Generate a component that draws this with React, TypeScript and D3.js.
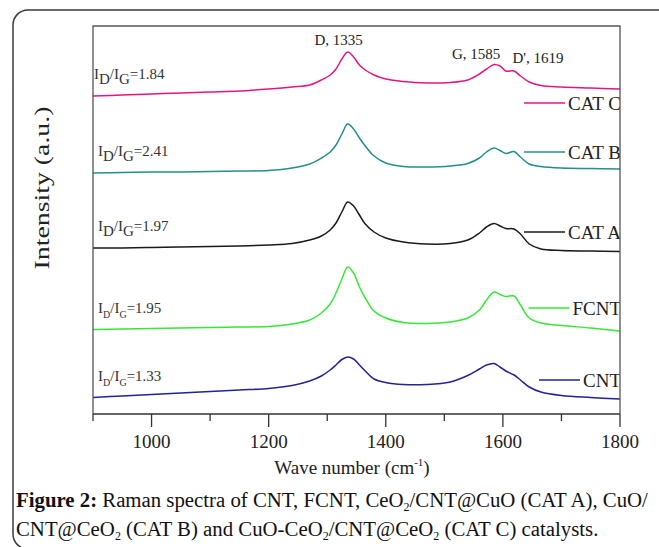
import React, { useRef, useEffect } from "react";
import * as d3 from "d3";

// Raman shift grid (cm-1) shared by all spectra
const waveNumbers = [
  900, 950, 1000, 1050, 1100, 1150, 1200, 1240, 1270, 1290, 1305, 1315, 1325,
  1335, 1345, 1355, 1365, 1380, 1400, 1430, 1470, 1510, 1540, 1560, 1572,
  1585, 1595, 1605, 1619, 1630, 1645, 1665, 1700, 1750, 1800,
];

// stacked intensities (a.u.)
const catC = [
  318, 319, 320, 321, 322, 323, 325, 327, 329, 334, 339, 345, 355, 362, 357,
  349, 344, 339, 335, 332.5, 331, 331.5, 334, 340, 345, 349.5, 348, 343, 343,
  338, 332, 328.5, 327, 326, 325,
];
const catB = [
  241, 241.5, 242, 242, 242.5, 243, 243.5, 246, 250, 256, 262, 269, 280, 290,
  285, 276, 268, 258, 251, 247.5, 247, 248, 250.5, 256, 262, 266, 263.5, 260.5,
  262.5, 257, 250, 247.5, 246, 245.5, 245,
];
const catA = [
  166, 166, 166.5, 167, 167.5, 168, 169, 170.5, 174, 178, 184, 191, 202, 212,
  208, 199, 190, 182, 176, 172, 170, 170.5, 174, 181, 187, 190.5, 188, 185.5,
  185, 180, 170, 165, 163.5, 163, 162.5,
];
const fcnt = [
  84.5, 85, 85.5, 86, 86.5, 87, 87.5, 90, 94, 101, 110, 121, 135, 147, 141,
  127, 116, 103, 96, 91.5, 90.5, 92, 96, 104, 114, 122, 119.5, 117.5, 118, 109,
  96, 91, 88.5, 86, 83,
];
const cnt = [
  16.5, 18, 19.5, 21, 22.5, 24, 25.5, 28.5, 33, 38, 44, 49, 54.5, 57, 55, 49,
  43, 35, 31.5, 29.5, 29.5, 32, 38.5, 45, 49, 50.5, 47, 43, 39, 34, 27, 22,
  18.5, 16.5, 15,
];

const seriesNames = ["CAT C", "CAT B", "CAT A", "FCNT", "CNT"];
const seriesValues = [catC, catB, catA, fcnt, cnt];
const ratios = ["1.84", "2.41", "1.97", "1.95", "1.33"];
const peakNames = ["D, 1335", "G, 1585", "D', 1619"];
const peakPositions = [1335, 1585, 1619];
const majorTicks = [1000, 1200, 1400, 1600, 1800];
const minorTicks = [900, 1100, 1300, 1500, 1700];

const colors = ["#e8157f", "#22908a", "#1a1a1a", "#35e835", "#222299"];

const W = 659;
const H = 547;

const RamanChart = () => {
  const svgRef = useRef<SVGSVGElement>(null);

  function build() {
    const svg = d3.select(svgRef.current);
    svg.selectAll("*").remove();

    const left = 93;
    const right = 620;
    const top = 26;
    const bottom = 414;

    const x = d3.scaleLinear().domain([900, 1800]).range([left, right]);
    const y = d3.scaleLinear().domain([0, 388]).range([bottom, top]);

    // outer rounded panel
    svg
      .append("rect")
      .attr("x", 13)
      .attr("y", 10)
      .attr("width", 720)
      .attr("height", 539)
      .attr("rx", 15)
      .attr("fill", "none")
      .attr("stroke", "#3a3a3a")
      .attr("stroke-width", 1.5);

    const serif = "'Liberation Serif', 'Times New Roman', serif";

    // clip so legend text is cut at the frame like the original
    svg
      .append("clipPath")
      .attr("id", "plotClip")
      .append("rect")
      .attr("x", left)
      .attr("y", top)
      .attr("width", right - left)
      .attr("height", bottom - top);

    const plot = svg.append("g").attr("clip-path", "url(#plotClip)");

    const line = d3
      .line<number>()
      .x((_, i) => x(waveNumbers[i]))
      .y((d) => y(d))
      .curve(d3.curveCatmullRom.alpha(0.5));

    plot
      .selectAll("path.spec")
      .data(seriesValues)
      .enter()
      .append("path")
      .attr("class", "spec")
      .attr("fill", "none")
      .attr("stroke", (_, i) => colors[i])
      .attr("stroke-width", 1.5)
      .attr("d", (d) => line(d));

    // legend: short line + name, right aligned to the frame
    const legendY = [103, 152, 232, 308, 380];
    seriesNames.forEach((name, i) => {
      const t = plot
        .append("text")
        .attr("x", right + 1)
        .attr("y", legendY[i] + 6.5)
        .attr("text-anchor", "end")
        .style("font-family", serif)
        .style("font-size", "19px")
        .attr("fill", "#222")
        .text(name);
      const node = t.node() as SVGTextElement;
      const tw = node.getComputedTextLength();
      const x2 = right + 1 - tw - 3;
      plot
        .append("line")
        .attr("x1", x2 - 41)
        .attr("x2", x2)
        .attr("y1", legendY[i])
        .attr("y2", legendY[i])
        .attr("stroke", colors[i])
        .attr("stroke-width", 1.5);
    });

    // ID/IG ratio labels over the left end of each spectrum
    seriesValues.forEach((vals, i) => {
      const big = i < 3;
      const subSize = big ? 15 : 10;
      const t = svg
        .append("text")
        .attr("x", left + 1 + (i > 0 ? 4 : 0))
        .attr("y", y(vals[0] + 17))
        .style("font-family", serif)
        .style("font-size", "15px")
        .attr("fill", "#333");
      t.append("tspan").text("I");
      t.append("tspan").attr("dy", 5).style("font-size", `${subSize}px`).text("D");
      t.append("tspan").attr("dy", -5).text("/I");
      t.append("tspan").attr("dy", 5).style("font-size", `${subSize}px`).text("G");
      t.append("tspan").attr("dy", -5).text(`=${ratios[i]}`);
    });

    // peak annotations above CAT C
    const peakDx = [-9, -18, 24];
    const peakDy = [-7, -6, -8];
    peakNames.forEach((name, i) => {
      const idx = waveNumbers.indexOf(peakPositions[i]);
      svg
        .append("text")
        .attr("x", x(peakPositions[i]) + peakDx[i])
        .attr("y", y(catC[idx]) + peakDy[i])
        .attr("text-anchor", "middle")
        .style("font-family", serif)
        .style("font-size", "15px")
        .attr("fill", "#222")
        .text(name);
    });

    // frame: left, top, right
    svg
      .append("path")
      .attr("d", `M${left},${bottom}V${top}H${right}V${bottom}`)
      .attr("fill", "none")
      .attr("stroke", "#555")
      .attr("stroke-width", 1.3);

    // bottom axis
    const axis = svg.append("g").attr("transform", `translate(0,${bottom})`);
    axis
      .append("line")
      .attr("x1", left)
      .attr("x2", right)
      .attr("stroke", "#333")
      .attr("stroke-width", 1.3);
    axis
      .selectAll("line.minor")
      .data(minorTicks)
      .enter()
      .append("line")
      .attr("class", "minor")
      .attr("x1", (d) => x(d))
      .attr("x2", (d) => x(d))
      .attr("y2", 7)
      .attr("stroke", "#333")
      .attr("stroke-width", 1.3);
    axis
      .selectAll("line.major")
      .data(majorTicks)
      .enter()
      .append("line")
      .attr("class", "major")
      .attr("x1", (d) => x(d))
      .attr("x2", (d) => x(d))
      .attr("y2", 13)
      .attr("stroke", "#333")
      .attr("stroke-width", 1.3);
    axis
      .selectAll("text.tick")
      .data(majorTicks)
      .enter()
      .append("text")
      .attr("class", "tick")
      .attr("x", (d) => x(d))
      .attr("y", 34)
      .attr("text-anchor", "middle")
      .style("font-family", serif)
      .style("font-size", "19px")
      .attr("fill", "#222")
      .text((d) => d);

    const xTitle = svg
      .append("text")
      .attr("x", 352)
      .attr("y", 474)
      .attr("text-anchor", "middle")
      .style("font-family", serif)
      .style("font-size", "19px")
      .attr("fill", "#222");
    xTitle.append("tspan").text("Wave number (cm");
    xTitle.append("tspan").attr("dy", -8).style("font-size", "11px").text("-1");
    xTitle.append("tspan").attr("dy", 8).text(")");

    svg
      .append("text")
      .attr("transform", `translate(49,188) rotate(-90)`)
      .attr("text-anchor", "middle")
      .style("font-family", serif)
      .style("font-size", "21px")
      .attr("fill", "#222")
      .attr("textLength", 163)
      .attr("lengthAdjust", "spacingAndGlyphs")
      .text("Intensity (a.u.)");

    // caption
    const capSize = "20.8px";
    const cap1 = svg
      .append("text")
      .attr("x", 16)
      .attr("y", 507)
      .style("font-family", serif)
      .style("font-size", capSize)
      .attr("fill", "#111");
    cap1.append("tspan").style("font-weight", "bold").text("Figure 2:");
    cap1.append("tspan").text(" Raman spectra of CNT, FCNT, CeO");
    cap1.append("tspan").attr("dy", 4).style("font-size", "12px").text("2");
    cap1.append("tspan").attr("dy", -4).text("/CNT@CuO (CAT A), CuO/");

    const cap2 = svg
      .append("text")
      .attr("x", 16)
      .attr("y", 536)
      .style("font-family", serif)
      .style("font-size", capSize)
      .attr("fill", "#111");
    cap2.append("tspan").text("CNT@CeO");
    cap2.append("tspan").attr("dy", 4).style("font-size", "12px").text("2");
    cap2.append("tspan").attr("dy", -4).text(" (CAT B) and CuO-CeO");
    cap2.append("tspan").attr("dy", 4).style("font-size", "12px").text("2");
    cap2.append("tspan").attr("dy", -4).text("/CNT@CeO");
    cap2.append("tspan").attr("dy", 4).style("font-size", "12px").text("2");
    cap2.append("tspan").attr("dy", -4).text(" (CAT C) catalysts.");
  }

  useEffect(build, []);

  return (
    <svg
      ref={svgRef}
      width={W}
      height={H}
      style={{ position: "absolute", left: 0, top: 0, background: "#fff" }}
    />
  );
};

export default function App() {
  return <RamanChart />;
}
